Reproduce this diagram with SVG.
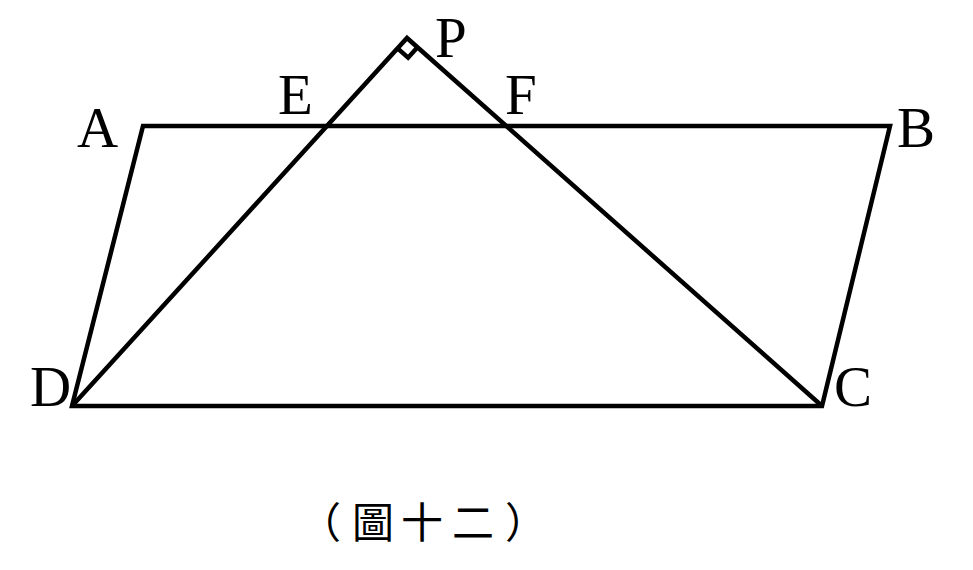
<svg xmlns="http://www.w3.org/2000/svg" width="973" height="570" viewBox="0 0 973 570">
<style>
.ln{fill:none;stroke:#000;stroke-width:4.5;stroke-linejoin:miter}
.lb{font-family:"Liberation Serif","Times New Roman",serif;font-size:57px;fill:#000}
.cap{font-family:"Noto Sans CJK TC","Noto Sans CJK SC",sans-serif;font-size:42px;fill:#000;text-anchor:middle}
</style>
<rect width="973" height="570" fill="#fff"/>
<g id="connectors">
<polygon class="ln" points="143,126 890,126 822,406 72,406"/>
<polyline class="ln" points="72,406 407,38 822,406"/>
<polyline class="ln" points="397.6,48.4 408.1,57.7 417.5,47.3"/>
</g>
<g id="labels">
<text class="lb" x="77" y="147">A</text>
<text class="lb" x="897" y="147">B</text>
<text class="lb" x="30" y="406">D</text>
<text class="lb" x="834" y="406">C</text>
<text class="lb" x="278" y="114">E</text>
<text class="lb" x="505" y="114">F</text>
<text class="lb" x="435" y="57">P</text>
</g>
<g id="caption">
<text class="cap" x="320" y="538">（</text>
<text class="cap" x="373" y="538">圖</text>
<text class="cap" x="422" y="538">十</text>
<text class="cap" x="473" y="538">二</text>
<text class="cap" x="526" y="538">）</text>
</g>
</svg>
